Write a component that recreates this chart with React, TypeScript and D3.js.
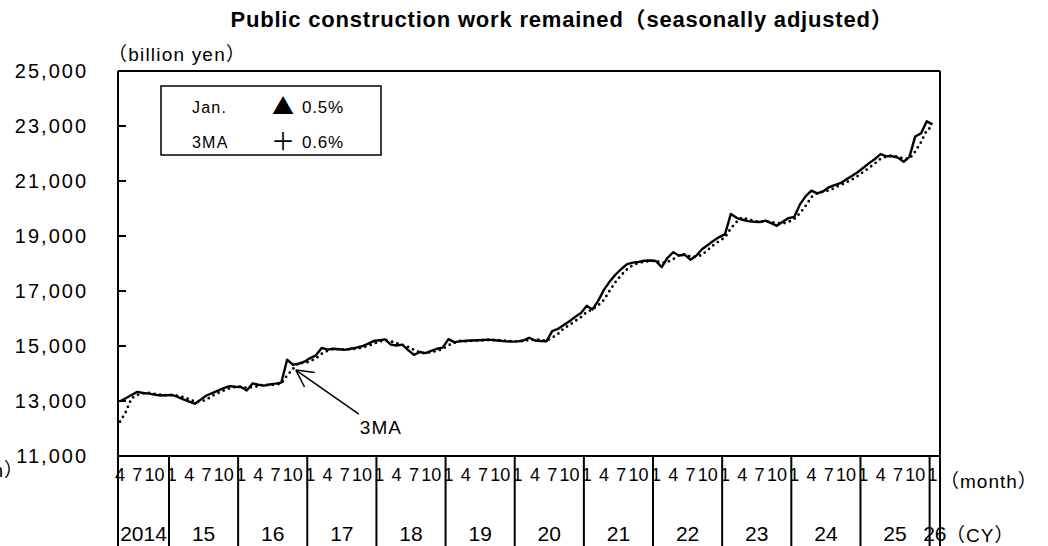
import React from 'react';
import * as d3 from 'd3';

const TITLE = 'Public construction work remained（seasonally adjusted）';
const Y_UNIT = '（billion yen）';
const START_YEAR = 2014;
const START_MONTH = 4;
const yearLabels = ['2014', '15', '16', '17', '18', '19', '20', '21', '22', '23', '24', '25', '26'];
const monthTickLabels = [1, 4, 7, 10];
const yTicks = [11000, 13000, 15000, 17000, 19000, 21000, 23000, 25000];

// Monthly values, Apr 2014 .. Jan 2026 (billion yen)
const actual = [
  12990, 13100, 13220, 13330, 13290, 13270, 13230, 13200, 13210,
  13220, 13150, 13060, 12980, 12900, 13050, 13200, 13290, 13380, 13470, 13540, 13520,
  13510, 13380, 13640, 13590, 13560, 13600, 13630, 13670, 14500, 14320, 14360, 14430,
  14560, 14660, 14930, 14870, 14900, 14880, 14860, 14900, 14940, 14990, 15080, 15180,
  15210, 15240, 15050, 15020, 15050, 14850, 14680, 14780, 14740, 14820, 14900, 14940,
  15250, 15140, 15170, 15190, 15200, 15210, 15220, 15230, 15210, 15190, 15170, 15160,
  15170, 15200, 15300, 15200, 15180, 15170, 15540, 15620, 15760, 15900, 16060, 16200,
  16460, 16330, 16650, 17050, 17350, 17600, 17800, 17980, 18030, 18060, 18100, 18110,
  18090, 17870, 18200, 18410, 18290, 18320, 18140, 18280, 18520, 18670, 18830, 18960,
  19070, 19800, 19660, 19590, 19540, 19520, 19510, 19560, 19470, 19370, 19520, 19650,
  19690, 20150, 20450, 20650, 20550, 20620, 20770, 20850, 20920, 21050, 21180, 21320,
  21480, 21650, 21800, 21980, 21900, 21900, 21850, 21700, 21880, 22620, 22730, 23170,
  23060,
];

// 3-month moving average, same months
const ma3 = [
  12250, 12600, 13100, 13220, 13280, 13300, 13260, 13230, 13210,
  13210, 13190, 13140, 13060, 12980, 12980, 13050, 13180, 13290, 13380, 13460, 13510,
  13520, 13470, 13510, 13540, 13600, 13580, 13600, 13630, 13930, 14160, 14390, 14370,
  14450, 14550, 14720, 14820, 14900, 14880, 14880, 14880, 14900, 14940, 15000, 15080,
  15160, 15210, 15170, 15100, 15040, 14970, 14860, 14770, 14730, 14780, 14820, 14890,
  15030, 15110, 15190, 15170, 15190, 15200, 15210, 15220, 15220, 15210, 15190, 15170,
  15170, 15180, 15220, 15230, 15230, 15180, 15300, 15440, 15640, 15760, 15910, 16050,
  16240, 16330, 16480, 16680, 17020, 17330, 17580, 17790, 17940, 18020, 18060, 18090,
  18100, 18020, 18050, 18160, 18300, 18340, 18250, 18250, 18310, 18490, 18670, 18820,
  18950, 19280, 19510, 19680, 19600, 19550, 19520, 19530, 19510, 19470, 19450, 19510,
  19620, 19830, 20100, 20420, 20550, 20610, 20650, 20750, 20850, 20940, 21050, 21180,
  21330, 21480, 21640, 21810, 21890, 21930, 21880, 21820, 21810, 22070, 22410, 22840,
  22990,
];

const legendLabels = ['Jan.', '3MA'];
const legendSymbols = ['▲', '＋'];
const legendValues = ['0.5%', '0.6%'];

const W = 1048;
const H = 546;
const PLOT = { left: 118, right: 940, top: 71, bottom: 456 };
const FONT = '"Liberation Sans", Arial, "Noto Sans CJK JP", sans-serif';
const CJK = '"Noto Sans CJK JP", sans-serif';

export default function App() {
  const n = actual.length;
  const x = d3.scaleLinear().domain([0, n - 1]).range([120, 932.5]);
  const y = d3.scaleLinear().domain([11000, 25000]).range([PLOT.bottom, PLOT.top]);

  const line = d3
    .line<number>()
    .x((_, i) => x(i))
    .y((d) => y(d));

  const monthOf = (i: number) => ((START_MONTH - 1 + i) % 12) + 1;

  const monthLabels: { i: number; m: number }[] = [];
  for (let i = 0; i < n; i++) {
    if (monthTickLabels.includes(monthOf(i))) monthLabels.push({ i, m: monthOf(i) });
  }
  const boundaries: number[] = [PLOT.left];
  for (let i = 1; i < n; i++) if (monthOf(i) === 1) boundaries.push(x(i - 0.5));
  boundaries.push(PLOT.right);
  const yearSpans = yearLabels.map((lab, k) => ({
    lab,
    cx: (boundaries[k] + boundaries[k + 1]) / 2,
  }));

  const arrowIdx = 30;
  const tipX = x(arrowIdx) + 3;
  const tipY = y(ma3[arrowIdx]) + 1;
  const tailX = tipX + 63;
  const tailY = tipY + 44;
  const ang = Math.atan2(tailY - tipY, tailX - tipX);
  const armLen = 19;
  const spread = (28 * Math.PI) / 180;
  const arm1 = [tipX + armLen * Math.cos(ang - spread), tipY + armLen * Math.sin(ang - spread)];
  const arm2 = [tipX + armLen * Math.cos(ang + spread), tipY + armLen * Math.sin(ang + spread)];

  const legendX = 161;
  const legendY = 86;

  return (
    <svg
      width={W}
      height={H}
      style={{ position: 'absolute', left: 0, top: 0, background: '#fff' }}
      fontFamily={FONT}
    >
      <rect x={0} y={0} width={W} height={H} fill="#fff" />
      <text x={562} y={27} textAnchor="middle" fontSize={22} fontWeight="bold" letterSpacing={0.8} fill="#000">
        {TITLE}
      </text>
      <text x={108} y={61} fontSize={19} letterSpacing={1.2} fill="#000">
        {Y_UNIT}
      </text>

      {yTicks.map((t) => (
        <text
          key={t}
          x={88}
          y={y(t)}
          dy="0.36em"
          textAnchor="end"
          fontSize={20}
          letterSpacing={2}
          fill="#000"
        >
          {d3.format(',')(t)}
        </text>
      ))}

      {yTicks.map((t) => (
        <line key={'tk' + t} x1={PLOT.left} x2={PLOT.left + 8} y1={y(t)} y2={y(t)} stroke="#000" strokeWidth={2} />
      ))}

      <line x1={PLOT.left} x2={PLOT.right} y1={PLOT.top} y2={PLOT.top} stroke="#000" strokeWidth={2} />
      <line x1={PLOT.left} x2={PLOT.right} y1={PLOT.bottom} y2={PLOT.bottom} stroke="#000" strokeWidth={2} />
      <line x1={PLOT.left} x2={PLOT.left} y1={PLOT.top} y2={H} stroke="#000" strokeWidth={2} />
      <line x1={PLOT.right} x2={PLOT.right} y1={PLOT.top} y2={H} stroke="#000" strokeWidth={2} />
      {boundaries.slice(1, -1).map((bx, k) => (
        <line key={'b' + k} x1={bx} x2={bx} y1={PLOT.bottom} y2={H} stroke="#000" strokeWidth={2} />
      ))}

      {monthLabels.map((d) => (
        <text key={'m' + d.i} x={x(d.i)} y={475} dy="0.36em" textAnchor="middle" fontSize={18} fill="#000">
          {d.m}
        </text>
      ))}
      {yearSpans.map((d) => (
        <text key={'y' + d.lab} x={d.cx} y={533} dy="0.36em" textAnchor="middle" fontSize={21} fill="#000">
          {d.lab}
        </text>
      ))}
      <text x={940} y={481} dy="0.36em" fontSize={19} letterSpacing={1} fill="#000">
        （month）
      </text>
      <text x={946} y={535} dy="0.36em" fontSize={19} letterSpacing={1} fill="#000">
        （CY）
      </text>
      <text x={24} y={470} dy="0.36em" textAnchor="end" fontSize={19} letterSpacing={1} fill="#000">
        （month）
      </text>
      <text x={10} y={533} dy="0.36em" textAnchor="end" fontSize={19} letterSpacing={1} fill="#000">
        （CY）
      </text>

      <path d={line(ma3) || ''} fill="none" stroke="#000" strokeWidth={2.8} strokeDasharray="0 5.6" strokeLinecap="round" />
      <path d={line(actual) || ''} fill="none" stroke="#000" strokeWidth={2.4} strokeLinejoin="round" />

      <line x1={tipX} y1={tipY} x2={tailX} y2={tailY} stroke="#000" strokeWidth={1.5} />
      <line x1={tipX} y1={tipY} x2={arm1[0]} y2={arm1[1]} stroke="#000" strokeWidth={1.5} />
      <line x1={tipX} y1={tipY} x2={arm2[0]} y2={arm2[1]} stroke="#000" strokeWidth={1.5} />
      <text x={tailX + 1} y={tailY + 13} dy="0.36em" fontSize={19} letterSpacing={1} fill="#000">
        3MA
      </text>

      <rect x={legendX} y={legendY} width={220} height={69} fill="#fff" stroke="#000" strokeWidth={1.5} />
      {legendLabels.map((lab, k) => (
        <g key={lab}>
          <text x={legendX + 31} y={legendY + 21 + k * 35} dy="0.36em" fontSize={16} letterSpacing={1.2} fill="#000">
            {lab}
          </text>
          <text
            x={legendX + 122}
            y={legendY + 20 + k * 35}
            dy="0.36em"
            textAnchor="middle"
            fontFamily={CJK}
            fontSize={k === 0 ? 22 : 24}
            fill="#000"
          >
            {legendSymbols[k]}
          </text>
          <text x={legendX + 141} y={legendY + 21 + k * 35} dy="0.36em" fontSize={17} letterSpacing={0.8} fill="#000">
            {legendValues[k]}
          </text>
        </g>
      ))}
    </svg>
  );
}
